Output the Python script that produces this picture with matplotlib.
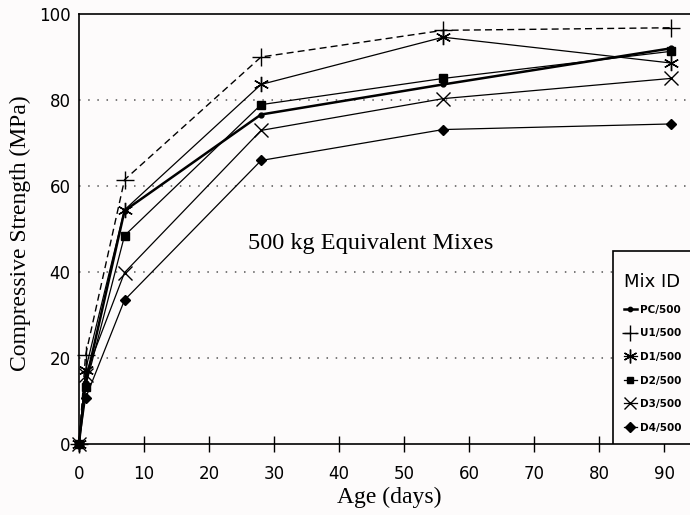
# -*- coding: utf-8 -*-
import numpy as np
import matplotlib
matplotlib.use("Agg")
import matplotlib.pyplot as plt
from matplotlib.patches import Rectangle

# age in days
age = [0, 1, 7, 28, 56, 91]

# compressive strength in MPa
pc_500 = [0, 14.0, 54.2, 76.6, 83.6, 92.0]
u1_500 = [0, 20.5, 61.4, 90.0, 96.2, 96.8]
d1_500 = [0, 17.1, 54.4, 83.6, 94.6, 88.6]
d2_500 = [0, 13.2, 48.4, 78.9, 85.0, 91.3]
d3_500 = [0, 16.0, 39.8, 72.9, 80.3, 85.0]
d4_500 = [0, 10.5, 33.4, 65.9, 73.1, 74.4]

labels = ["PC/500", "U1/500", "D1/500", "D2/500", "D3/500", "D4/500"]

serif = "Liberation Serif"
sans = "DejaVu Sans"
bg = "#fdfbfb"

fig = plt.figure(figsize=(6.9, 5.15), dpi=100, facecolor=bg)
ax = fig.add_axes([0.1145, 0.1388, 0.9, 0.834])
ax.set_facecolor(bg)

k = dict(color="black", clip_on=False)
ax.plot(age, pc_500, lw=1.8, marker="o", ms=3.5, label=labels[0], **k)
ax.plot(age, u1_500, lw=1.0, ls=(0, (5, 3)), marker="+", ms=13, mew=1.0, label=labels[1], **k)
ax.plot(age, d1_500, lw=0.9, marker=(6, 2, 0), ms=11, mew=1.0, label=labels[2], **k)
ax.plot(age, d2_500, lw=0.9, marker="s", ms=5.5, label=labels[3], **k)
ax.plot(age, d3_500, lw=0.9, marker="x", ms=10, mew=1.0, label=labels[4], **k)
ax.plot(age, d4_500, lw=0.9, marker="D", ms=5.5, label=labels[5], **k)

ax.set_xlim(0, 95.5)
ax.set_ylim(0, 100)
ax.set_xticks(np.arange(0, 100, 10))
ax.set_yticks(np.arange(0, 101, 20))

# dotted horizontal gridlines
for yv in [20, 40, 60, 80]:
    ax.axhline(yv, color="#555555", lw=1.1, ls=(0, (1, 5)), zorder=0)

for s in ax.spines.values():
    s.set_linewidth(1.2)

ax.tick_params(axis="x", direction="inout", length=11, width=1.0, pad=10,
               labelsize=12)
ax.tick_params(axis="y", length=0, pad=6, labelsize=12)
for t in ax.get_xticklabels() + ax.get_yticklabels():
    t.set_fontfamily(sans)

ax.set_xlabel("Age (days)", fontsize=17, family=serif)
ax.xaxis.set_label_coords(0.5, -0.1)
ax.set_ylabel("Compressive Strength (MPa)", fontsize=17, family=serif)
ax.yaxis.set_label_coords(-0.078, 0.49)

ax.text(26, 46.5, "500 kg Equivalent Mixes", fontsize=17.5, family=serif,
        ha="left", va="center")

# legend box runs off the right edge of the picture
box = Rectangle((0.86, 0.0), 0.2, 0.448, transform=ax.transAxes,
                facecolor=bg, edgecolor="black", lw=1.2, zorder=4)
ax.add_patch(box)

leg = ax.legend(loc="upper left", bbox_to_anchor=(0.862, 0.418), borderaxespad=0,
                title="Mix ID", alignment="left", frameon=False,
                prop={"family": sans, "weight": "bold", "size": 7.5},
                title_fontproperties={"family": sans, "size": 13},
                handlelength=1.3, handletextpad=0.3, labelspacing=1.3,
                borderpad=0.9, markerscale=0.9)
leg.set_zorder(5)

plt.savefig("out.png", dpi=100, facecolor=fig.get_facecolor())
